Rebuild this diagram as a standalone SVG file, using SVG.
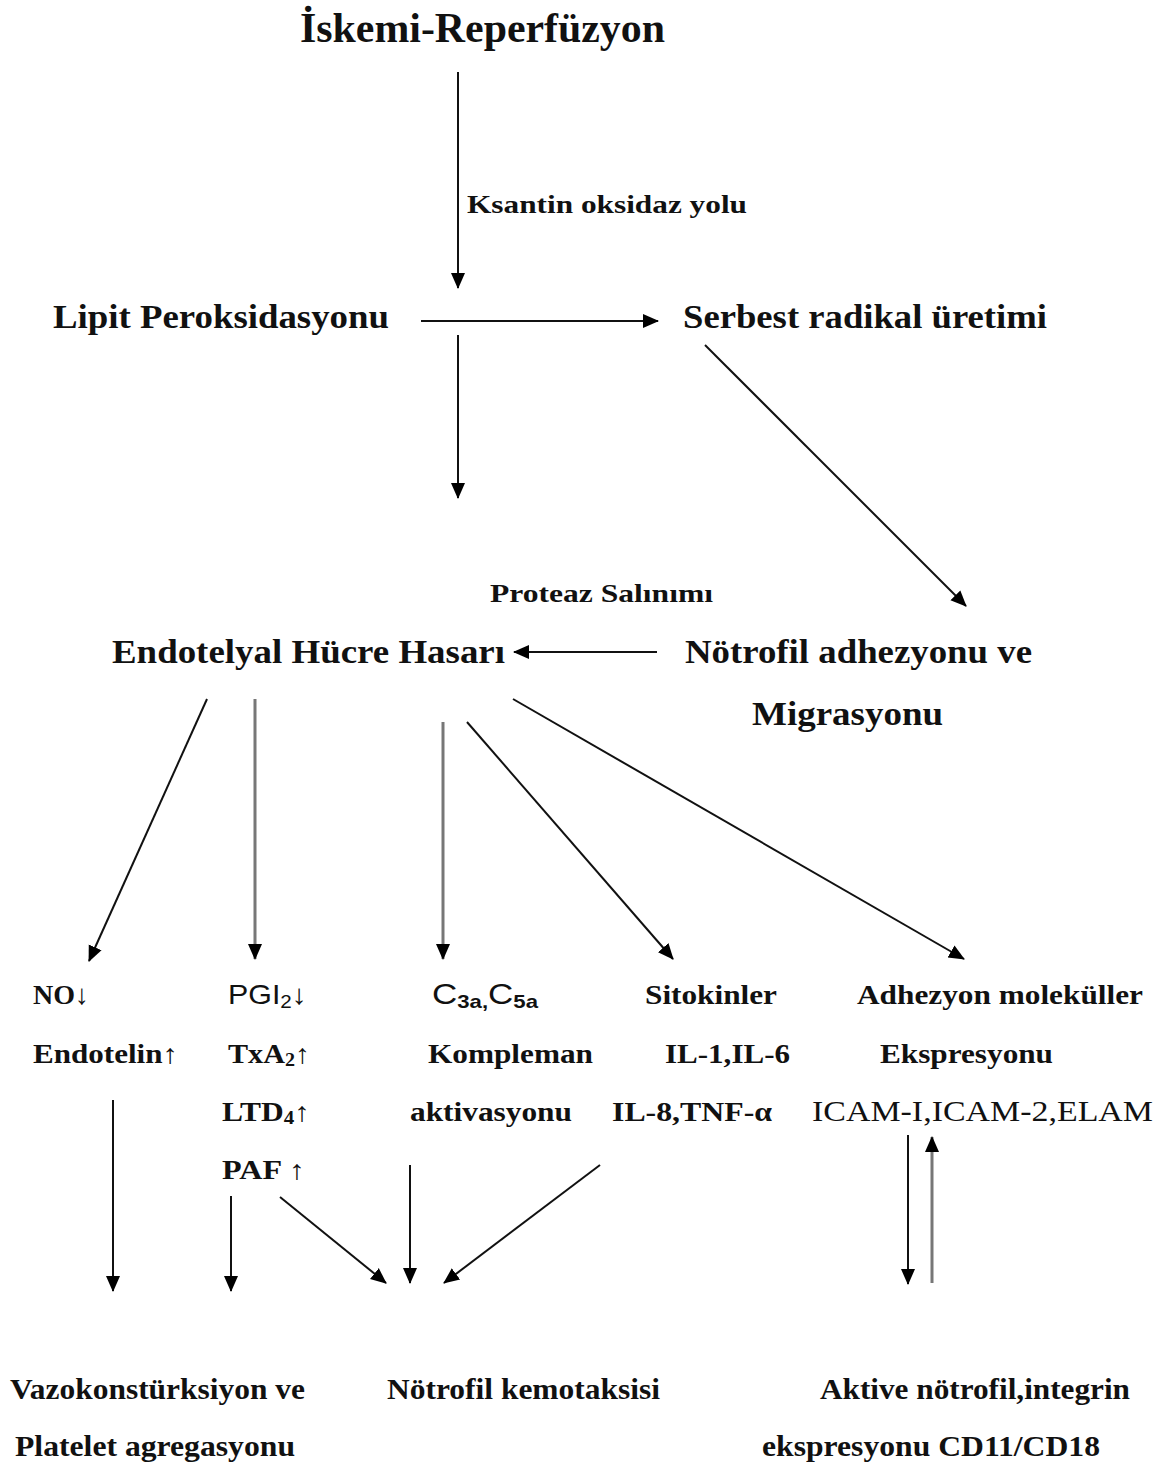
<svg xmlns="http://www.w3.org/2000/svg" width="1164" height="1464" viewBox="0 0 1164 1464">
<defs>
<marker id="ah" markerUnits="userSpaceOnUse" markerWidth="16" markerHeight="16" viewBox="0 0 16 16" refX="15" refY="8" orient="auto">
<path d="M0,1 L16,8 L0,15 Z" fill="#000"/>
</marker>
<style>
.t{font-family:"Liberation Serif","Times New Roman",serif;font-weight:bold;fill:#111}
.r{font-family:"Liberation Serif","Times New Roman",serif;font-weight:normal;fill:#111}
.s{font-family:"Liberation Sans",Arial,sans-serif;font-weight:normal;fill:#111}
.c line{stroke:#111;stroke-width:2;fill:none}
.c line.gl{stroke:#777;stroke-width:3}
</style>
</defs>
<rect width="1164" height="1464" fill="#fff"/>

<g id="iskemi"><text class="t" x="300" y="42" font-size="42" textLength="365" lengthAdjust="spacingAndGlyphs">İskemi-Reperfüzyon</text></g>
<g id="ksantin"><text class="t" x="467" y="213" font-size="26" textLength="280" lengthAdjust="spacingAndGlyphs">Ksantin oksidaz yolu</text></g>
<g id="lipit"><text class="t" x="53" y="328" font-size="33" textLength="336" lengthAdjust="spacingAndGlyphs">Lipit Peroksidasyonu</text></g>
<g id="serbest"><text class="t" x="683" y="328" font-size="33" textLength="364" lengthAdjust="spacingAndGlyphs">Serbest radikal üretimi</text></g>
<g id="proteaz"><text class="t" x="490" y="602" font-size="25" textLength="223" lengthAdjust="spacingAndGlyphs">Proteaz Salınımı</text></g>
<g id="endotelyal"><text class="t" x="112" y="663" font-size="33" textLength="393" lengthAdjust="spacingAndGlyphs">Endotelyal Hücre Hasarı</text></g>
<g id="notrofil-adh">
<text class="t" x="685" y="663" font-size="33" textLength="347" lengthAdjust="spacingAndGlyphs">Nötrofil adhezyonu ve</text>
<text class="t" x="752" y="725" font-size="33" textLength="191" lengthAdjust="spacingAndGlyphs">Migrasyonu</text>
</g>

<g id="no">
<text class="t" x="33" y="1004" font-size="28">NO<tspan class="s">↓</tspan></text>
<text class="t" x="33" y="1063" font-size="27" textLength="145" lengthAdjust="spacingAndGlyphs">Endotelin<tspan class="s" fill="#777">↑</tspan></text>
</g>
<g id="pgi">
<text class="s" x="228" y="1004" font-size="28" textLength="79" lengthAdjust="spacingAndGlyphs">PGI<tspan font-size="19" dy="4">2</tspan><tspan dy="-4">↓</tspan></text>
<text class="t" x="228" y="1063" font-size="27" textLength="82" lengthAdjust="spacingAndGlyphs">TxA<tspan font-size="18" dy="3">2</tspan><tspan class="s" dy="-3">↑</tspan></text>
<text class="t" x="222" y="1121" font-size="27" textLength="88" lengthAdjust="spacingAndGlyphs">LTD<tspan font-size="18" dy="3">4</tspan><tspan class="s" dy="-3">↑</tspan></text>
<text class="t" x="222" y="1179" font-size="27" textLength="83" lengthAdjust="spacingAndGlyphs">PAF <tspan class="s" fill="#777">↑</tspan></text>
</g>
<g id="c3a">
<text class="s" x="432" y="1004" font-size="30" textLength="106" lengthAdjust="spacingAndGlyphs">C<tspan font-size="19" dy="4" font-weight="bold">3a,</tspan><tspan dy="-4">C</tspan><tspan font-size="19" dy="4" font-weight="bold">5a</tspan></text>
<text class="t" x="428" y="1063" font-size="27" textLength="165" lengthAdjust="spacingAndGlyphs">Kompleman</text>
<text class="t" x="410" y="1121" font-size="27" textLength="162" lengthAdjust="spacingAndGlyphs">aktivasyonu</text>
</g>
<g id="sitokinler">
<text class="t" x="645" y="1004" font-size="27" textLength="132" lengthAdjust="spacingAndGlyphs">Sitokinler</text>
<text class="t" x="665" y="1063" font-size="27" textLength="125" lengthAdjust="spacingAndGlyphs">IL-1,IL-6</text>
<text class="t" x="612" y="1121" font-size="27" textLength="160" lengthAdjust="spacingAndGlyphs">IL-8,TNF-α</text>
</g>
<g id="adhezyon">
<text class="t" x="857" y="1004" font-size="27" textLength="286" lengthAdjust="spacingAndGlyphs">Adhezyon moleküller</text>
<text class="t" x="880" y="1063" font-size="27" textLength="173" lengthAdjust="spacingAndGlyphs">Ekspresyonu</text>
<text class="r" x="812" y="1121" font-size="30" textLength="341" lengthAdjust="spacingAndGlyphs">ICAM-I,ICAM-2,ELAM</text>
</g>

<g id="vazo">
<text class="t" x="10" y="1399" font-size="30" textLength="295" lengthAdjust="spacingAndGlyphs">Vazokonstürksiyon ve</text>
<text class="t" x="15" y="1456" font-size="30" textLength="280" lengthAdjust="spacingAndGlyphs">Platelet agregasyonu</text>
</g>
<g id="kemotaksi"><text class="t" x="387" y="1399" font-size="30" textLength="273" lengthAdjust="spacingAndGlyphs">Nötrofil kemotaksisi</text></g>
<g id="aktive">
<text class="t" x="820" y="1399" font-size="30" textLength="310" lengthAdjust="spacingAndGlyphs">Aktive nötrofil,integrin</text>
<text class="t" x="762" y="1456" font-size="30" textLength="338" lengthAdjust="spacingAndGlyphs">ekspresyonu CD11/CD18</text>
</g>

<g id="connectors" class="c">
<line x1="458" y1="72" x2="458" y2="288" marker-end="url(#ah)"/>
<line x1="421" y1="321" x2="658" y2="321" marker-end="url(#ah)"/>
<line x1="458" y1="335" x2="458" y2="498" marker-end="url(#ah)"/>
<line x1="705" y1="345" x2="966" y2="606" marker-end="url(#ah)"/>
<line x1="657" y1="652" x2="514" y2="652" marker-end="url(#ah)"/>
<line x1="207" y1="699" x2="89" y2="961" marker-end="url(#ah)"/>
<line class="gl" x1="255" y1="699" x2="255" y2="959" marker-end="url(#ah)"/>
<line class="gl" x1="443" y1="722" x2="443" y2="959" marker-end="url(#ah)"/>
<line x1="467" y1="722" x2="673" y2="959" marker-end="url(#ah)"/>
<line x1="513" y1="699" x2="964" y2="959" marker-end="url(#ah)"/>
<line x1="113" y1="1100" x2="113" y2="1291" marker-end="url(#ah)"/>
<line x1="231" y1="1196" x2="231" y2="1291" marker-end="url(#ah)"/>
<line x1="280" y1="1197" x2="386" y2="1283" marker-end="url(#ah)"/>
<line x1="410" y1="1165" x2="410" y2="1283" marker-end="url(#ah)"/>
<line x1="600" y1="1165" x2="444" y2="1283" marker-end="url(#ah)"/>
<line x1="908" y1="1135" x2="908" y2="1284" marker-end="url(#ah)"/>
<line class="gl" x1="932" y1="1283" x2="932" y2="1137" marker-end="url(#ah)"/>
</g>
</svg>
